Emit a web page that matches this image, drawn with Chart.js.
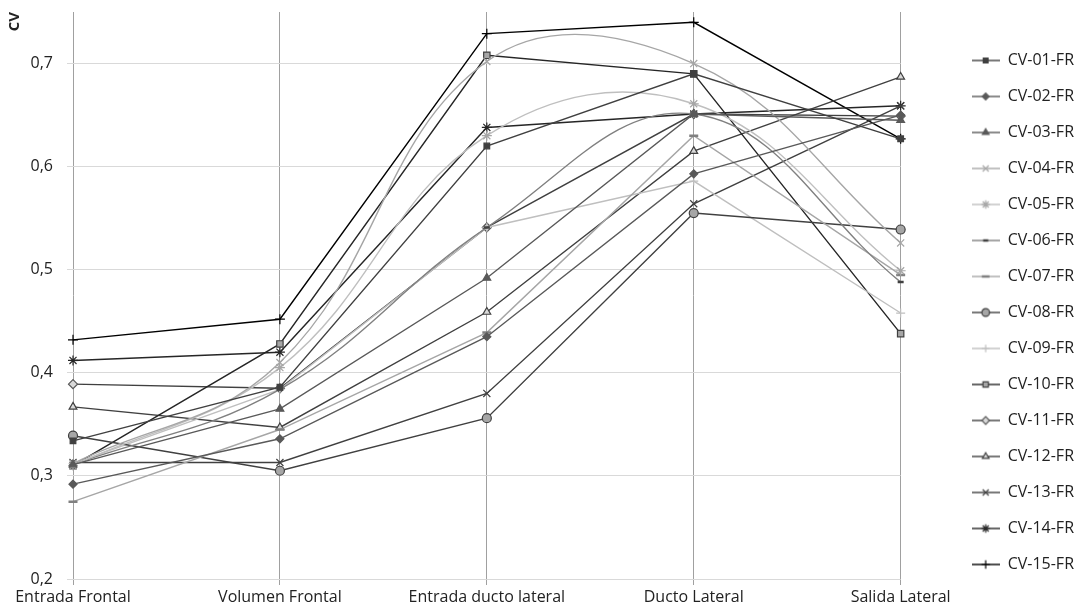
<!DOCTYPE html>
<html>
<head>
<meta charset="utf-8">
<script src="https://cdn.jsdelivr.net/npm/chart.js@4/dist/chart.umd.min.js"></script>
<style>
  body { margin: 0; background: #fff; }
  #wrap { width: 1084px; height: 613px; }
</style>
</head>
<body>
<div id="wrap"><canvas id="grafico"></canvas></div>
<script>
const categorias = ['Entrada Frontal', 'Volumen Frontal', 'Entrada ducto lateral', 'Ducto Lateral', 'Salida Lateral']

const cv01 = [0.334, 0.386, 0.620, 0.690, 0.627]
const cv02 = [0.292, 0.336, 0.435, 0.593, 0.650]
const cv03 = [0.311, 0.365, 0.492, 0.651, 0.645]
const cv04 = [0.312, 0.410, 0.702, 0.700, 0.526]
const cv05 = [0.310, 0.405, 0.630, 0.661, 0.499]
const cv06 = [0.311, 0.384, 0.541, 0.651, 0.488]
const cv07 = [0.275, 0.345, 0.439, 0.630, 0.495]
const cv08 = [0.339, 0.305, 0.356, 0.555, 0.539]
const cv09 = [0.312, 0.384, 0.541, 0.586, 0.458]
const cv10 = [0.310, 0.428, 0.708, 0.690, 0.438]
const cv11 = [0.389, 0.385, 0.541, 0.651, 0.649]
const cv12 = [0.367, 0.347, 0.459, 0.615, 0.687]
const cv13 = [0.313, 0.313, 0.380, 0.564, 0.659]
const cv14 = [0.412, 0.420, 0.638, 0.651, 0.659]
const cv15 = [0.432, 0.452, 0.729, 0.740, 0.627]

const marcasY = [0.2, 0.3, 0.4, 0.5, 0.6, 0.7]

// estilo de cada serie: [nombre, datos, color linea, marcador, relleno, borde, radio, suave]
const series = [
    ['CV-01-FR', cv01, '#404040', 'rect', '#404040', '#404040', 4, false],
    ['CV-02-FR', cv02, '#595959', 'rectRot', '#595959', '#595959', 4, false],
    ['CV-03-FR', cv03, '#595959', 'triangle', '#595959', '#595959', 4.5, false],
    ['CV-04-FR', cv04, '#a6a6a6', 'crossRot', '#a6a6a6', '#a6a6a6', 5, true],
    ['CV-05-FR', cv05, '#bfbfbf', 'star', '#a6a6a6', '#a6a6a6', 5, true],
    ['CV-06-FR', cv06, '#808080', 'line', '#404040', '#404040', 3, true],
    ['CV-07-FR', cv07, '#a6a6a6', 'line', '#808080', '#808080', 4.5, false],
    ['CV-08-FR', cv08, '#404040', 'circle', '#a6a6a6', '#404040', 4.5, false],
    ['CV-09-FR', cv09, '#bfbfbf', 'cross', '#bfbfbf', '#bfbfbf', 4.5, false],
    ['CV-10-FR', cv10, '#262626', 'rect', '#a6a6a6', '#404040', 4.5, false],
    ['CV-11-FR', cv11, '#404040', 'rectRot', '#d9d9d9', '#595959', 4.5, false],
    ['CV-12-FR', cv12, '#404040', 'triangle', '#d9d9d9', '#404040', 4.5, false],
    ['CV-13-FR', cv13, '#404040', 'crossRot', '#404040', '#404040', 5, false],
    ['CV-14-FR', cv14, '#262626', 'star', '#262626', '#262626', 5, false],
    ['CV-15-FR', cv15, '#000000', 'cross', '#000000', '#000000', 5, false]
]

const datasets = series.map(s => ({
    label: s[0],
    data: s[1],
    borderColor: s[2],
    backgroundColor: s[4],
    borderWidth: 1.4,
    pointStyle: s[3],
    pointBackgroundColor: s[4],
    pointBorderColor: s[5],
    pointBorderWidth: s[3] === 'line' ? 2.5 : 1.2,
    pointRadius: s[6],
    pointHoverRadius: s[6],
    tension: s[7] ? 0.4 : 0,
    fill: false
}))

// icono de leyenda: linea con marcador
function icono(ds) {
    const c = document.createElement('canvas')
    c.width = 28
    c.height = 14
    const ctx = c.getContext('2d')
    ctx.strokeStyle = ds.borderColor
    ctx.lineWidth = 1.4
    ctx.beginPath()
    ctx.moveTo(0, 7)
    ctx.lineTo(28, 7)
    ctx.stroke()
    ctx.fillStyle = ds.pointBackgroundColor
    ctx.strokeStyle = ds.pointBorderColor
    ctx.lineWidth = ds.pointBorderWidth
    Chart.helpers.drawPoint(ctx, {pointStyle: ds.pointStyle, radius: ds.pointRadius * 0.85, borderWidth: ds.pointBorderWidth, rotation: 0}, 14, 7)
    return c
}

const sinRelleno = s => { s.paddingTop = 0; s.paddingBottom = 0 }

const config = {
    type: 'line',
    data: { labels: categorias, datasets: datasets },
    options: {
        responsive: true,
        maintainAspectRatio: false,
        animation: false,
        layout: { padding: { top: 12, right: 0, left: 0, bottom: 0 } },
        plugins: {
            tooltip: { enabled: false },
            legend: {
                position: 'right',
                labels: {
                    usePointStyle: true,
                    pointStyleWidth: 28,
                    padding: 20,
                    color: '#222',
                    font: { family: 'Open Sans', size: 16 },
                    generateLabels: chart => chart.data.datasets.map((ds, i) => ({
                        text: ds.label,
                        pointStyle: icono(ds),
                        fillStyle: ds.borderColor,
                        strokeStyle: ds.borderColor,
                        lineWidth: 0,
                        hidden: false,
                        datasetIndex: i,
                        fontColor: '#222'
                    }))
                }
            }
        },
        scales: {
            x: {
                grid: { color: '#a0a0a0', tickLength: 6 },
                border: { display: false },
                ticks: { color: '#222', padding: 3, maxRotation: 0, autoSkip: false, font: { family: 'Open Sans', size: 16 } },
                afterFit: s => { s.height = 34 }
            },
            y: {
                min: 0.2,
                max: 0.75,
                afterBuildTicks: s => {
                    s.ticks = marcasY.map(v => ({ value: v }))
                },
                grid: { color: '#d9d9d9', tickLength: 6 },
                border: { display: false },
                ticks: {
                    color: '#222',
                    padding: 14,
                    font: { family: 'Open Sans', size: 16 },
                    callback: v => v.toFixed(1).replace('.', ',')
                },
                title: {
                    display: true,
                    text: 'CV',
                    align: 'end',
                    color: '#222',
                    font: { family: 'Open Sans', size: 15, weight: 'bold' },
                    padding: { top: 6, bottom: 0 }
                },
                afterFit: s => { s.width = 73; sinRelleno(s) }
            },
            hueco: {
                position: 'right',
                grid: { display: false },
                border: { display: false },
                ticks: { display: false },
                afterFit: s => { s.width = 51; sinRelleno(s) }
            }
        }
    }
}

const miGrafico = new Chart(document.querySelector('#grafico'), config)
</script>
</body>
</html>
